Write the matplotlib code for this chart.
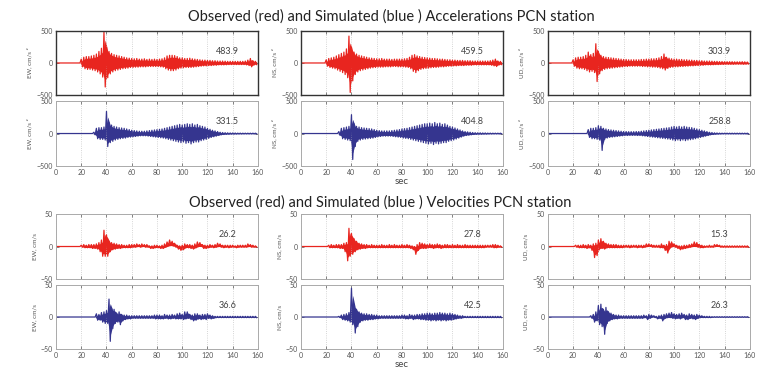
import matplotlib
matplotlib.use("Agg")
import matplotlib.pyplot as plt
import numpy as np

plt.rcParams['font.family'] = ['Lato', 'DejaVu Sans']

# Seismogram envelopes, one value per 2 s bin (0..158 s).
# "up" = largest positive swing in the bin, "lo" = largest negative swing.
ACC_EW_OBS_UP = [0, 0, 0, 0, 0, 0, 0, 0, 0, 0,
                 60, 90, 100, 100, 110, 120, 140, 180, 230, 480,
                 250, 180, 150, 130, 120, 110, 100, 90, 80, 75,
                 70, 65, 70, 60, 60, 65, 55, 60, 55, 60,
                 55, 60, 65, 80, 110, 120, 120, 115, 100, 80,
                 80, 70, 70, 75, 65, 60, 55, 50, 45, 45,
                 40, 40, 35, 35, 30, 30, 30, 28, 25, 25,
                 25, 25, 25, 25, 25, 30, 45, 70, 35, 25]
ACC_EW_OBS_LO = [0, 0, 0, 0, 0, 0, 0, 0, 0, 0,
                 -60, -90, -100, -100, -110, -120, -140, -170, -220, -375,
                 -230, -170, -140, -120, -110, -100, -90, -85, -80, -70,
                 -70, -65, -65, -60, -60, -60, -55, -55, -55, -55,
                 -55, -60, -65, -90, -110, -120, -120, -110, -90, -80,
                 -75, -70, -70, -70, -65, -60, -55, -50, -45, -45,
                 -40, -40, -35, -35, -30, -30, -30, -28, -25, -25,
                 -25, -25, -25, -25, -25, -30, -40, -60, -30, -25]
ACC_EW_SIM_UP = [0, 0, 0, 0, 0, 0, 0, 0, 0, 0,
                 0, 0, 0, 0, 0, 20, 80, 90, 90, 100,
                 340, 170, 130, 110, 100, 90, 85, 80, 70, 60,
                 50, 45, 40, 35, 35, 35, 40, 45, 50, 55,
                 60, 65, 70, 80, 90, 100, 110, 120, 130, 140,
                 130, 140, 150, 140, 150, 130, 140, 120, 110, 100,
                 80, 65, 50, 40, 30, 20, 15, 12, 10, 8,
                 8, 7, 6, 6, 5, 5, 5, 5, 5, 5]
ACC_EW_SIM_LO = [0, 0, 0, 0, 0, 0, 0, 0, 0, 0,
                 0, 0, 0, 0, 0, -20, -80, -90, -90, -100,
                 -200, -140, -120, -100, -90, -80, -75, -70, -60, -55,
                 -50, -45, -40, -35, -35, -35, -40, -45, -50, -55,
                 -60, -65, -70, -80, -90, -100, -110, -120, -130, -140,
                 -130, -150, -140, -160, -140, -130, -130, -110, -100, -90,
                 -75, -60, -50, -40, -30, -20, -15, -12, -10, -8,
                 -8, -7, -6, -6, -5, -5, -5, -5, -5, -5]
ACC_NS_OBS_UP = [0, 0, 0, 0, 0, 0, 0, 0, 0, 0,
                 50, 70, 80, 90, 110, 130, 150, 170, 220, 420,
                 250, 170, 140, 120, 110, 100, 90, 80, 75, 70,
                 65, 65, 70, 60, 60, 60, 55, 60, 60, 60,
                 60, 65, 70, 90, 120, 130, 110, 100, 90, 85,
                 80, 75, 70, 70, 65, 60, 60, 55, 50, 50,
                 45, 45, 40, 40, 40, 35, 35, 35, 30, 30,
                 30, 30, 30, 30, 30, 35, 45, 60, 30, 25]
ACC_NS_OBS_LO = [0, 0, 0, 0, 0, 0, 0, 0, 0, 0,
                 -50, -70, -80, -90, -110, -130, -150, -180, -230, -460,
                 -280, -180, -140, -120, -110, -100, -90, -80, -75, -70,
                 -65, -65, -65, -60, -60, -60, -55, -55, -60, -60,
                 -60, -65, -70, -90, -130, -150, -120, -100, -90, -85,
                 -80, -75, -70, -70, -65, -60, -60, -55, -50, -50,
                 -45, -45, -40, -40, -40, -35, -35, -35, -30, -30,
                 -30, -30, -30, -30, -30, -35, -45, -55, -30, -25]
ACC_NS_SIM_UP = [0, 0, 0, 0, 0, 0, 0, 0, 0, 0,
                 0, 0, 0, 0, 0, 30, 80, 90, 100, 110,
                 290, 150, 110, 100, 90, 85, 80, 75, 70, 60,
                 50, 45, 40, 40, 40, 40, 45, 50, 55, 60,
                 70, 75, 80, 90, 100, 110, 120, 130, 140, 150,
                 150, 160, 150, 170, 150, 160, 140, 150, 130, 110,
                 100, 85, 70, 55, 40, 30, 25, 20, 15, 12,
                 10, 10, 8, 8, 6, 6, 5, 5, 5, 5]
ACC_NS_SIM_LO = [0, 0, 0, 0, 0, 0, 0, 0, 0, 0,
                 0, 0, 0, 0, 0, -30, -80, -90, -100, -110,
                 -400, -200, -120, -100, -90, -85, -80, -75, -70, -60,
                 -50, -45, -40, -40, -40, -40, -45, -50, -55, -60,
                 -70, -75, -80, -90, -100, -110, -120, -130, -140, -150,
                 -160, -150, -170, -150, -160, -150, -140, -140, -120, -110,
                 -100, -85, -70, -55, -40, -30, -25, -20, -15, -12,
                 -10, -10, -8, -8, -6, -6, -5, -5, -5, -5]
ACC_UD_OBS_UP = [0, 0, 0, 0, 0, 0, 0, 0, 0, 0,
                 50, 80, 90, 90, 100, 120, 170, 130, 150, 300,
                 180, 120, 100, 90, 85, 80, 75, 70, 65, 60,
                 55, 55, 50, 50, 50, 50, 50, 55, 55, 60,
                 60, 65, 65, 70, 80, 100, 140, 90, 75, 65,
                 60, 60, 55, 55, 50, 50, 45, 45, 40, 40,
                 35, 35, 30, 30, 30, 28, 25, 25, 22, 22,
                 20, 20, 20, 20, 18, 18, 18, 20, 18, 15]
ACC_UD_OBS_LO = [0, 0, 0, 0, 0, 0, 0, 0, 0, 0,
                 -50, -80, -90, -90, -100, -120, -140, -130, -150, -290,
                 -170, -120, -100, -90, -85, -80, -75, -70, -65, -60,
                 -55, -55, -50, -50, -50, -50, -50, -55, -55, -60,
                 -60, -65, -65, -70, -80, -90, -110, -85, -70, -65,
                 -60, -60, -55, -55, -50, -50, -45, -45, -40, -40,
                 -35, -35, -30, -30, -30, -28, -25, -25, -22, -22,
                 -20, -20, -20, -20, -18, -18, -18, -20, -18, -15]
ACC_UD_SIM_UP = [0, 0, 0, 0, 0, 0, 0, 0, 0, 0,
                 0, 0, 0, 0, 0, 0, 60, 80, 80, 90,
                 120, 110, 80, 70, 60, 55, 50, 45, 40, 35,
                 30, 30, 28, 28, 28, 30, 30, 35, 40, 45,
                 50, 55, 60, 65, 70, 75, 80, 85, 90, 100,
                 110, 100, 110, 100, 110, 100, 95, 90, 80, 70,
                 60, 50, 40, 30, 20, 15, 10, 8, 6, 5,
                 5, 5, 5, 5, 5, 5, 5, 5, 5, 5]
ACC_UD_SIM_LO = [0, 0, 0, 0, 0, 0, 0, 0, 0, 0,
                 0, 0, 0, 0, 0, 0, -60, -80, -80, -90,
                 -100, -260, -90, -70, -60, -55, -50, -45, -40, -35,
                 -30, -30, -28, -28, -28, -30, -30, -35, -40, -45,
                 -50, -55, -60, -65, -70, -75, -80, -85, -90, -100,
                 -110, -100, -110, -100, -110, -100, -95, -90, -80, -70,
                 -60, -50, -40, -30, -20, -15, -10, -8, -6, -5,
                 -5, -5, -5, -5, -5, -5, -5, -5, -5, -5]

VEL_EW_OBS_UP = [0, 0, 0, 0, 0, 0, 0, 0, 0, 0,
                 2, 3, 2, 3, 3, 3, 4, 6, 10, 25,
                 18, 8, 6, 5, 4, 3, 3, 2, 2, 3,
                 3, 3, 4, 3, 4, 3, 3, 1, 1, 2,
                 2, 1, 2, 4, 7, 10, 8, 5, 2, 1,
                 2, 4, 3, 3, 2, 4, 7, 6, 3, 2,
                 2, 3, 2, 3, 5, 4, 2, 2, 2, 2,
                 2, 1, 2, 2, 2, 2, 4, 3, 2, 1]
VEL_EW_OBS_LO = [0, 0, 0, 0, 0, 0, 0, 0, 0, 0,
                 -1, -2, -2, -2, -3, -3, -4, -8, -15, -15,
                 -15, -8, -5, -4, -3, -3, -2, -2, -2, -2,
                 -1, -1, 0, -1, 0, -1, -1, -3, -3, -2,
                 -2, -3, -3, -1, 1, 2, 1, -1, -4, -6,
                 -5, -2, -2, -3, -4, -2, 0, 0, -3, -3,
                 -2, -1, -2, -1, 0, -1, -2, -1, -2, -1,
                 -1, -2, -1, -1, -1, -1, 0, -1, -1, -1]
VEL_EW_SIM_UP = [0, 0, 0, 0, 0, 0, 0, 0, 0, 0,
                 0, 0, 0, 0, 0, 0, 5, 4, 7, 8,
                 10, 28, 14, 12, 6, 8, 4, 3, 3, 2,
                 2, 2, 2, 2, 2, 2, 2, 2, 2, 3,
                 3, 3, 2, 4, 3, 3, 4, 3, 5, 6,
                 4, 8, 8, 4, 3, 5, 5, 3, 4, 4,
                 5, 3, 2, 1, 1, 1, 1, 1, 1, 1,
                 1, 1, 1, 1, 1, 1, 1, 1, 1, 1]
VEL_EW_SIM_LO = [0, 0, 0, 0, 0, 0, 0, 0, 0, 0,
                 0, 0, 0, 0, 0, 0, -5, -5, -8, -10,
                 -10, -38, -18, -10, -8, -12, -6, -4, -3, -3,
                 -2, -2, -2, -2, -2, -2, -2, -2, -2, -3,
                 -3, -3, -3, -2, -3, -3, -2, -3, -3, -3,
                 -4, -3, -2, -4, -6, -5, -3, -4, -3, -4,
                 -2, -3, -2, -1, -1, -1, -1, -1, -1, -1,
                 -1, -1, -1, -1, -1, -1, -1, -1, -1, -1]
VEL_NS_OBS_UP = [0, 0, 0, 0, 0, 0, 0, 0, 0, 0,
                 0, 2, 3, 2, 3, 3, 3, 5, 6, 28,
                 20, 12, 8, 5, 4, 3, 3, 2, 3, 2,
                 2, 2, 3, 2, 2, 3, 2, 3, 2, 2,
                 3, 2, 3, 2, 1, 0, 3, 6, 5, 4,
                 3, 4, 3, 3, 4, 3, 2, 3, 3, 2,
                 3, 2, 3, 2, 2, 3, 2, 2, 2, 2,
                 2, 2, 2, 2, 2, 2, 3, 3, 2, 1]
VEL_NS_OBS_LO = [0, 0, 0, 0, 0, 0, 0, 0, 0, 0,
                 0, -2, -2, -2, -2, -3, -3, -8, -22, -15,
                 -12, -8, -5, -4, -3, -3, -2, -2, -2, -2,
                 -2, -2, -2, -2, -2, -2, -2, -2, -2, -2,
                 -2, -2, -2, -3, -5, -12, -6, -3, -3, -3,
                 -2, -2, -3, -2, -2, -3, -2, -2, -2, -2,
                 -2, -2, -2, -2, -2, -2, -2, -2, -2, -2,
                 -2, -2, -2, -1, -1, -1, -2, -2, -1, -1]
VEL_NS_SIM_UP = [0, 0, 0, 0, 0, 0, 0, 0, 0, 0,
                 0, 0, 0, 0, 0, 1, 3, 4, 5, 7,
                 45, 20, 12, 8, 6, 5, 5, 4, 4, 3,
                 3, 2, 2, 2, 2, 2, 2, 2, 2, 2,
                 3, 3, 2, 4, 3, 3, 4, 4, 5, 5,
                 6, 6, 5, 6, 6, 7, 6, 6, 5, 6,
                 5, 4, 3, 2, 2, 1, 1, 1, 1, 1,
                 1, 1, 1, 1, 1, 1, 1, 1, 1, 1]
VEL_NS_SIM_LO = [0, 0, 0, 0, 0, 0, 0, 0, 0, 0,
                 0, 0, 0, 0, 0, -1, -4, -5, -6, -8,
                 -12, -25, -15, -8, -6, -5, -5, -4, -4, -3,
                 -3, -2, -2, -2, -2, -2, -2, -2, -2, -2,
                 -2, -3, -3, -2, -4, -3, -3, -4, -4, -5,
                 -5, -6, -5, -6, -5, -6, -5, -6, -5, -5,
                 -4, -3, -2, -2, -1, -1, -1, -1, -1, -1,
                 -1, -1, -1, -1, -1, -1, -1, -1, -1, -1]
VEL_UD_OBS_UP = [0, 0, 0, 0, 0, 0, 0, 0, 0, 0,
                 0, 2, 2, 2, 3, 2, 3, 2, 4, 5,
                 10, 12, 8, 5, 4, 3, 3, 3, 2, 2,
                 2, 2, 2, 2, 2, 2, 2, 2, 2, 4,
                 4, 3, 2, 2, 2, 4, 2, 3, 8, 7,
                 4, 2, 1, 1, 2, 2, 3, 4, 7, 6,
                 3, 2, 1, 1, 2, 1, 3, 3, 2, 1,
                 1, 1, 1, 1, 1, 1, 1, 1, 1, 1]
VEL_UD_OBS_LO = [0, 0, 0, 0, 0, 0, 0, 0, 0, 0,
                 0, -1, -2, -2, -2, -3, -2, -6, -17, -14,
                 -4, -3, -4, -2, -2, -2, -2, -2, -2, -2,
                 -1, -1, -2, -1, -1, -2, -1, -2, -1, 0,
                 0, -1, -1, -1, -2, -2, -6, -10, -2, 0,
                 -1, -3, -5, -4, -3, -2, -1, 0, 0, -1,
                 -2, -2, -1, -1, -1, -1, 0, 0, -1, -1,
                 -1, -1, -1, -1, -1, -1, -1, -1, -1, -1]
VEL_UD_SIM_UP = [0, 0, 0, 0, 0, 0, 0, 0, 0, 0,
                 0, 0, 0, 0, 0, 0, 0, 2, 4, 8,
                 18, 20, 12, 15, 8, 6, 4, 3, 3, 2,
                 2, 2, 2, 2, 2, 2, 2, 2, 3, 2,
                 4, 3, 2, 1, 2, 3, 4, 5, 6, 7,
                 5, 4, 5, 6, 4, 3, 5, 4, 3, 4,
                 3, 2, 1, 1, 1, 0.5, 0.5, 0.5, 0.5, 0.5,
                 0.5, 0.5, 0.5, 0.5, 0.5, 0.5, 0.5, 0.5, 0.5, 0.5]
VEL_UD_SIM_LO = [0, 0, 0, 0, 0, 0, 0, 0, 0, 0,
                 0, 0, 0, 0, 0, 0, 0, -2, -8, -6,
                 -12, -15, -27, -10, -6, -4, -3, -3, -2, -2,
                 -2, -2, -2, -2, -2, -2, -2, -2, -1, -4,
                 -2, 0, -1, -3, -2, -6, -2, -1, -1, -2,
                 -3, -2, -3, -1, -4, -4, -2, -3, -4, -2,
                 -1, -1, -1, -1, -1, -0.5, -0.5, -0.5, -0.5, -0.5,
                 -0.5, -0.5, -0.5, -0.5, -0.5, -0.5, -0.5, -0.5, -0.5, -0.5]

COMPONENTS = ['EW', 'NS', 'UD']
ACC_PEAKS_OBS = ['483.9', '459.5', '303.9']
ACC_PEAKS_SIM = ['331.5', '404.8', '258.8']
VEL_PEAKS_OBS = ['26.2', '27.8', '15.3']
VEL_PEAKS_SIM = ['36.6', '42.5', '26.3']

ACC_TRACES = [
    [(ACC_EW_OBS_UP, ACC_EW_OBS_LO), (ACC_NS_OBS_UP, ACC_NS_OBS_LO), (ACC_UD_OBS_UP, ACC_UD_OBS_LO)],
    [(ACC_EW_SIM_UP, ACC_EW_SIM_LO), (ACC_NS_SIM_UP, ACC_NS_SIM_LO), (ACC_UD_SIM_UP, ACC_UD_SIM_LO)],
]
VEL_TRACES = [
    [(VEL_EW_OBS_UP, VEL_EW_OBS_LO), (VEL_NS_OBS_UP, VEL_NS_OBS_LO), (VEL_UD_OBS_UP, VEL_UD_OBS_LO)],
    [(VEL_EW_SIM_UP, VEL_EW_SIM_LO), (VEL_NS_SIM_UP, VEL_NS_SIM_LO), (VEL_UD_SIM_UP, VEL_UD_SIM_LO)],
]

RED = '#e8251f'
BLUE = '#35358f'
BIN = 2.0

# panel geometry (figure fractions)
COL_LEFT = [0.0735, 0.395, 0.719]
COL_W = 0.265
ACC_ROWS = [(0.7467, 0.1707), (0.5573, 0.1733)]
VEL_ROWS = [(0.256, 0.1733), (0.0693, 0.1707)]


def trace_xy(up, lo):
    t = np.arange(len(up)) * BIN
    x = np.empty(2 * len(up))
    y = np.empty(2 * len(up))
    x[0::2] = t
    x[1::2] = t + BIN / 2
    y[0::2] = up
    y[1::2] = lo
    return t, x, y


def draw_panel(ax, up, lo, color, lim, label, peak, dark_frame, show_x):
    t, x, y = trace_xy(up, lo)
    # solid body of the record between the envelopes, spiky trace on top
    ax.fill_between(t + BIN / 2, np.array(lo) * 0.75, np.array(up) * 0.75,
                    color=color, lw=0)
    ax.plot(x, y, color=color, lw=0.9)
    ax.set_xlim(0, 160)
    ax.set_ylim(-lim, lim)
    ax.set_xticks(np.arange(0, 161, 20))
    ax.set_yticks([-lim, 0, lim])
    ax.grid(True, axis='x', color='#c8c8c8', linestyle=':', linewidth=0.6)
    ax.tick_params(direction='in', top=True, right=True, length=2, width=0.5,
                   labelsize=5, colors='#555555', pad=2)
    if not show_x:
        ax.tick_params(labelbottom=False)
    for s in ax.spines.values():
        s.set_color('#333333' if dark_frame else '#aaaaaa')
        s.set_linewidth(1.0 if dark_frame else 0.7)
    ax.set_ylabel(label, fontsize=4.5, color='#555555', labelpad=3)
    ax.text(136, lim * 0.36, peak, fontsize=6.5, color='#444444',
            ha='center', va='center')


fig = plt.figure(figsize=(7.62, 3.75), dpi=100)

for group, rows, lim, unit, traces, peaks in [
        ('Accelerations', ACC_ROWS, 500, 'cm/s \u00b2', ACC_TRACES, [ACC_PEAKS_OBS, ACC_PEAKS_SIM]),
        ('Velocities', VEL_ROWS, 50, 'cm/s', VEL_TRACES, [VEL_PEAKS_OBS, VEL_PEAKS_SIM])]:
    for r, (bottom, height) in enumerate(rows):
        for c, left in enumerate(COL_LEFT):
            ax = fig.add_axes([left, bottom, COL_W, height])
            up, lo = traces[r][c]
            draw_panel(ax, up, lo, RED if r == 0 else BLUE, lim,
                       f'{COMPONENTS[c]}, {unit}', peaks[r][c],
                       dark_frame=(group == 'Accelerations' and r == 0),
                       show_x=(r == 1))
            if r == 1 and c == 1:
                ax.set_xlabel('sec', fontsize=7, color='#444444', labelpad=1)

fig.text(0.514, 0.955, 'Observed (red) and Simulated (blue ) Accelerations PCN station',
         ha='center', va='center', fontsize=10.5, color='#222222')
fig.text(0.499, 0.461, 'Observed (red) and Simulated (blue ) Velocities PCN station',
         ha='center', va='center', fontsize=10.5, color='#222222')

fig.savefig('out.png', dpi=100)
